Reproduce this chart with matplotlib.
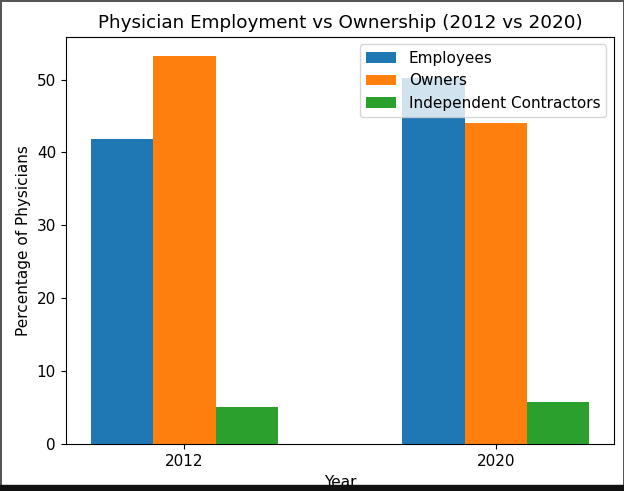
import numpy as np
import matplotlib.pyplot as plt
from matplotlib.patches import Rectangle

# данные
years = ['2012', '2020']
employees = [41.8, 50.2]
owners = [53.2, 44.0]
contractors = [5.0, 5.8]

plt.rcParams['font.size'] = 11
plt.rcParams['xtick.major.size'] = 3.8
plt.rcParams['ytick.major.size'] = 3.8

fig = plt.figure(figsize=(6.24, 4.91), dpi=100)
ax = fig.add_axes([0.106, 0.096, 0.878, 0.829])

x = np.arange(len(years))
w = 0.2
ax.bar(x - w, employees, w, label='Employees')
ax.bar(x, owners, w, label='Owners')
ax.bar(x + w, contractors, w, label='Independent Contractors')

ax.set_xticks(x)
ax.set_xticklabels(years)
ax.set_title('Physician Employment vs Ownership (2012 vs 2020)', fontsize=13.2)
ax.set_xlabel('Year')
ax.set_ylabel('Percentage of Physicians')
ax.legend(loc='upper right')

# рамка и полоса снизу, как на скриншоте
fig.patch.set_edgecolor('#555555')
fig.patch.set_linewidth(2)
fig.patches.append(Rectangle((0, 0), 1, 0.012, transform=fig.transFigure,
                             color='#111111', zorder=10))

fig.savefig('out.png', dpi=100)
